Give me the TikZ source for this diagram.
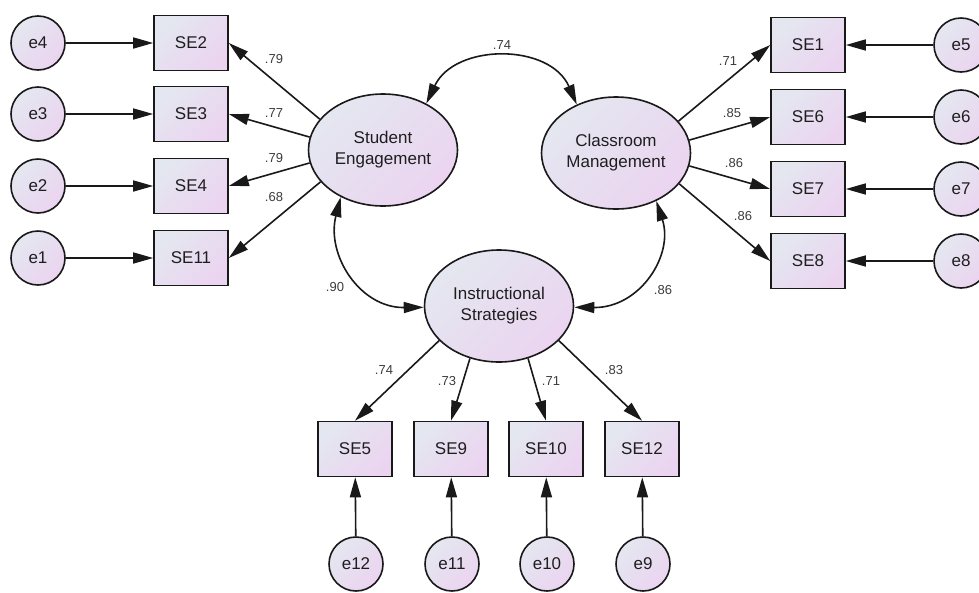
\documentclass[tikz,border=0pt]{standalone}
\usepackage{fontspec}
\setmainfont{Liberation Sans}
\usetikzlibrary{shapes.geometric,arrows.meta}
\definecolor{fa}{RGB}{228,231,240}
\definecolor{fb}{RGB}{235,212,240}
\definecolor{ln}{RGB}{25,25,25}
\definecolor{tx}{RGB}{30,30,30}
\definecolor{lt}{RGB}{60,60,60}
\tikzset{
  shadefill/.style={draw=ln, line width=1.6pt, top color=fa, bottom color=fb, shading angle=45, text=tx,
    font=\fontsize{17}{21}\selectfont},
  obs/.style={shadefill, rectangle, minimum width=74pt, minimum height=55pt, inner sep=0pt},
  lat/.style={shadefill, ellipse, minimum width=149pt, minimum height=112pt, inner sep=0pt, align=center},
  err/.style={shadefill, circle, minimum size=54pt, inner sep=0pt},
  lbl/.style={font=\fontsize{13}{15}\selectfont, text=lt, inner sep=0pt},
  tip/.tip={Triangle[length=20pt,width=11pt]},
  path/.style={-tip, line width=1.6pt, draw=ln},
  cov/.style={tip-tip, line width=1.6pt, draw=ln},
}
\begin{document}
\begin{tikzpicture}[x=1pt,y=-1pt]
\useasboundingbox (0,0) rectangle (979,592);
% latent variables
\node[lat] (SE) at (383,150) {Student\\Engagement};
\node[lat] (CM) at (616,153) {Classroom\\Management};
\node[lat] (IS) at (499,306) {Instructional\\Strategies};
% left indicators
\node[obs] (se2) at (191,43) {SE2};
\node[obs] (se3) at (191,114) {SE3};
\node[obs] (se4) at (191,186) {SE4};
\node[obs] (se11) at (191,258) {SE11};
\node[err] (e4) at (38,43) {e4};
\node[err] (e3) at (38,114) {e3};
\node[err] (e2) at (38,186) {e2};
\node[err] (e1) at (38,258) {e1};
% right indicators
\node[obs] (se1) at (808,45) {SE1};
\node[obs] (se6) at (808,117) {SE6};
\node[obs] (se7) at (808,189) {SE7};
\node[obs] (se8) at (808,261) {SE8};
\node[err] (e5) at (961,45) {e5};
\node[err] (e6) at (961,117) {e6};
\node[err] (e7) at (961,189) {e7};
\node[err] (e8) at (961,261) {e8};
% bottom indicators
\node[obs] (se5) at (355,449) {SE5};
\node[obs] (se9) at (451,449) {SE9};
\node[obs] (se10) at (546,449) {SE10};
\node[obs] (se12) at (642,449) {SE12};
\node[err] (e12) at (356,564) {e12};
\node[err] (e11) at (452,564) {e11};
\node[err] (e10) at (547,564) {e10};
\node[err] (e9) at (643,564) {e9};
% error paths
\draw[path] (e4) -- (se2);
\draw[path] (e3) -- (se3);
\draw[path] (e2) -- (se4);
\draw[path] (e1) -- (se11);
\draw[path] (e5) -- (se1);
\draw[path] (e6) -- (se6);
\draw[path] (e7) -- (se7);
\draw[path] (e8) -- (se8);
\draw[path] (e12) -- (se5);
\draw[path] (e11) -- (se9);
\draw[path] (e10) -- (se10);
\draw[path] (e9) -- (se12);
% loadings
\draw[path] (SE.154) -- (se2.east);
\draw[path] (SE.170) -- (se3.east);
\draw[path] (SE.190) -- (se4.east);
\draw[path] (SE.207) -- (se11.east);
\draw[path] (CM.27) -- (se1.west);
\draw[path] (CM.10) -- (se6.west);
\draw[path] (CM.-10) -- (se7.west);
\draw[path] (CM.-26) -- (se8.west);
\draw[path] (IS.210) -- (se5.north);
\draw[path] (IS.241) -- (se9.north);
\draw[path] (IS.299) -- (se10.north);
\draw[path] (IS.330) -- (se12.north);
% covariances
\draw[cov] (SE.47) .. controls (455,43) and (550,43) .. (CM.129);
\draw[cov] (SE.228) .. controls (326,255) and (360,308) .. (IS.181);
\draw[cov] (CM.310) .. controls (674,255) and (640,308) .. (IS.359);
% labels
\node[lbl] at (274,59) {.79};
\node[lbl] at (274,113) {.77};
\node[lbl] at (274,158) {.79};
\node[lbl] at (274,197) {.68};
\node[lbl] at (728,61) {.71};
\node[lbl] at (732,113) {.85};
\node[lbl] at (734,163) {.86};
\node[lbl] at (743,216) {.86};
\node[lbl] at (384,370) {.74};
\node[lbl] at (447,381) {.73};
\node[lbl] at (551,381) {.71};
\node[lbl] at (614,370) {.83};
\node[lbl] at (502,45) {.74};
\node[lbl] at (335,287) {.90};
\node[lbl] at (663,290) {.86};
\end{tikzpicture}
\end{document}
